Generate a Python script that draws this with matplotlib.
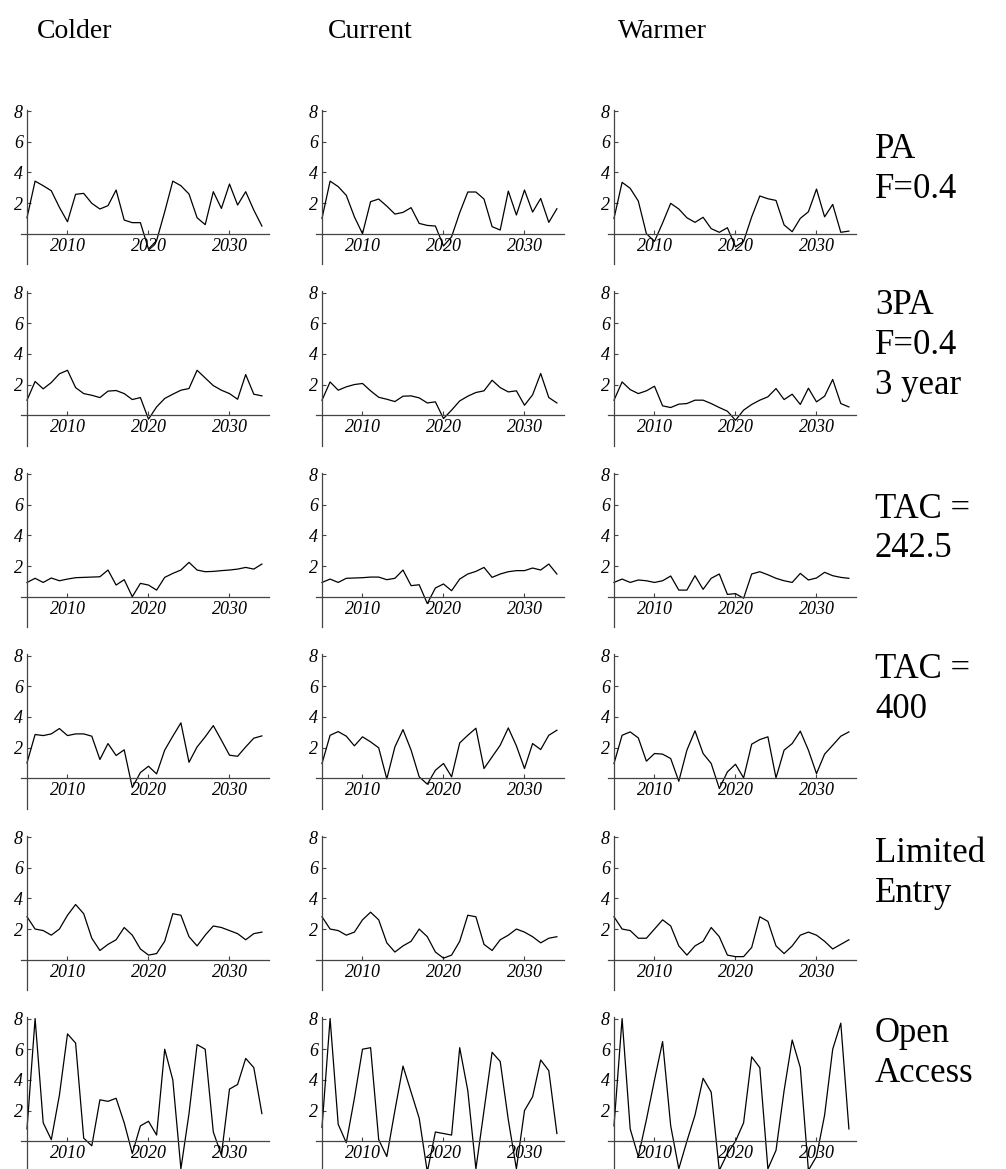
import numpy as np
import matplotlib
matplotlib.use("Agg")
import matplotlib.pyplot as plt
from matplotlib import font_manager as fm

plt.rcParams['font.family'] = ['Liberation Serif', 'DejaVu Serif']

years = np.arange(2005, 2035)
columns = ["Colder", "Current", "Warmer"]
row_labels = [["PA", "F=0.4"], ["3PA", "F=0.4", "3 year"], ["TAC =", "242.5"],
              ["TAC =", "400"], ["Limited", "Entry"], ["Open", "Access"]]
yticks = [2, 4, 6, 8]
xticks = [2010, 2020, 2030]

# PA F=0.4
pa_colder = [1.04, 3.43, 3.13, 2.8, 1.72, 0.78, 2.57, 2.63, 1.98, 1.61, 1.83, 2.85, 0.89, 0.72, 0.72,
             -1.0, -0.45, 1.43, 3.43, 3.13, 2.59, 1.04, 0.59, 2.74, 1.65, 3.24, 1.87, 2.74, 1.54, 0.5]
pa_current = [1.0, 3.43, 3.07, 2.5, 1.1, 0.0, 2.09, 2.26, 1.8, 1.28, 1.39, 1.7, 0.67, 0.54, 0.5,
              -0.8, -0.2, 1.37, 2.72, 2.72, 2.26, 0.46, 0.24, 2.78, 1.22, 2.85, 1.41, 2.3, 0.74, 1.63]
pa_warmer = [1.0, 3.35, 2.96, 2.13, 0.0, -0.5, 0.7, 1.98, 1.61, 1.04, 0.74, 1.07, 0.33, 0.09, 0.39,
             -0.85, -0.5, 1.1, 2.46, 2.28, 2.17, 0.57, 0.13, 1.0, 1.43, 2.91, 1.1, 1.91, 0.09, 0.17]

# 3PA F=0.4 3 year
pa3_colder = [0.98, 2.2, 1.72, 2.13, 2.7, 2.93, 1.8, 1.41, 1.3, 1.15, 1.57, 1.61, 1.41, 1.02, 1.15,
              -0.26, 0.54, 1.09, 1.37, 1.63, 1.74, 2.93, 2.43, 1.93, 1.63, 1.41, 1.04, 2.65, 1.37, 1.26]
pa3_current = [0.98, 2.17, 1.63, 1.85, 2.0, 2.07, 1.59, 1.17, 1.04, 0.89, 1.24, 1.26, 1.13, 0.8, 0.87,
               -0.22, 0.33, 0.93, 1.24, 1.48, 1.59, 2.28, 1.8, 1.52, 1.59, 0.65, 1.33, 2.72, 1.15, 0.8]
pa3_warmer = [0.98, 2.17, 1.67, 1.41, 1.59, 1.89, 0.61, 0.5, 0.72, 0.76, 0.98, 0.98, 0.76, 0.5, 0.26,
              -0.33, 0.33, 0.7, 0.98, 1.2, 1.74, 1.02, 1.37, 0.7, 1.76, 0.87, 1.24, 2.33, 0.76, 0.54]

# TAC = 242.5
tac242_colder = [0.93, 1.2, 0.93, 1.22, 1.04, 1.15, 1.24, 1.26, 1.28, 1.3, 1.74, 0.76, 1.11, 0.0, 0.87,
                 0.76, 0.43, 1.26, 1.52, 1.74, 2.24, 1.74, 1.63, 1.65, 1.7, 1.74, 1.8, 1.91, 1.8, 2.13]
tac242_current = [0.93, 1.15, 0.93, 1.2, 1.22, 1.24, 1.28, 1.28, 1.11, 1.2, 1.74, 0.72, 0.78, -0.45, 0.57,
                  0.83, 0.39, 1.15, 1.48, 1.65, 1.91, 1.26, 1.48, 1.63, 1.7, 1.7, 1.87, 1.74, 2.13, 1.48]
tac242_warmer = [0.93, 1.15, 0.93, 1.09, 1.04, 0.93, 1.04, 1.35, 0.43, 0.43, 1.37, 0.48, 1.2, 1.48, 0.15,
                 0.2, -0.1, 1.48, 1.63, 1.43, 1.2, 1.04, 0.93, 1.52, 1.09, 1.22, 1.59, 1.37, 1.26, 1.2]

# TAC = 400
tac400_colder = [1.0, 2.85, 2.78, 2.89, 3.24, 2.78, 2.89, 2.89, 2.74, 1.22, 2.26, 1.48, 1.85, -0.61, 0.37,
                 0.78, 0.28, 1.83, 2.74, 3.61, 1.04, 2.04, 2.7, 3.43, 2.48, 1.5, 1.43, 2.04, 2.61, 2.76]
tac400_current = [0.96, 2.8, 3.04, 2.74, 2.11, 2.7, 2.37, 1.98, -0.04, 2.04, 3.17, 1.83, 0.09, -0.39, 0.52,
                  0.96, 0.09, 2.3, 2.8, 3.26, 0.63, 1.39, 2.15, 3.28, 2.11, 0.63, 2.26, 1.87, 2.8, 3.13]
tac400_warmer = [0.96, 2.8, 3.02, 2.63, 1.11, 1.61, 1.57, 1.28, -0.2, 1.83, 3.09, 1.61, 0.96, -0.67, 0.41,
                 0.91, 0.02, 2.22, 2.52, 2.7, 0.02, 1.83, 2.26, 3.07, 1.83, 0.3, 1.57, 2.15, 2.74, 3.02]

# Limited Entry
le_colder = [2.8, 2.0, 1.9, 1.6, 2.0, 2.9, 3.6, 3.0, 1.4, 0.6, 1.0, 1.3, 2.1, 1.6, 0.7,
             0.3, 0.4, 1.2, 3.0, 2.9, 1.5, 0.9, 1.6, 2.2, 2.1, 1.9, 1.7, 1.3, 1.7, 1.8]
le_current = [2.8, 2.0, 1.9, 1.6, 1.8, 2.6, 3.1, 2.6, 1.1, 0.5, 0.9, 1.2, 2.0, 1.5, 0.5,
              0.1, 0.3, 1.2, 2.9, 2.8, 1.0, 0.6, 1.3, 1.6, 2.0, 1.8, 1.5, 1.1, 1.4, 1.5]
le_warmer = [2.8, 2.0, 1.9, 1.4, 1.4, 2.0, 2.6, 2.2, 0.9, 0.3, 0.9, 1.2, 2.1, 1.5, 0.3,
             0.2, 0.2, 0.8, 2.8, 2.5, 0.9, 0.4, 0.9, 1.6, 1.8, 1.6, 1.2, 0.7, 1.0, 1.3]

# Open Access
oa_colder = [0.8, 8.0, 1.2, 0.1, 3.0, 7.0, 6.4, 0.2, -0.3, 2.7, 2.6, 2.8, 1.2, -0.8, 1.0,
             1.3, 0.4, 6.0, 4.0, -1.8, 1.8, 6.3, 6.0, 0.6, -0.9, 3.4, 3.7, 5.4, 4.8, 1.8]
oa_current = [0.9, 8.0, 1.1, -0.1, 2.8, 6.0, 6.1, 0.1, -1.0, 2.0, 4.9, 3.2, 1.5, -2.0, 0.6,
              0.5, 0.4, 6.1, 3.3, -1.8, 2.0, 5.8, 5.2, 1.4, -1.8, 2.0, 2.9, 5.3, 4.6, 0.5]
oa_warmer = [1.0, 8.0, 0.8, -1.0, 1.4, 4.0, 6.5, 1.0, -1.8, 0.0, 1.7, 4.1, 3.2, -1.9, -0.8,
             0.0, 1.2, 5.5, 4.8, -1.8, -0.6, 3.3, 6.6, 4.8, -1.9, -1.0, 1.7, 6.0, 7.7, 0.8]

series = [[pa_colder, pa_current, pa_warmer],
          [pa3_colder, pa3_current, pa3_warmer],
          [tac242_colder, tac242_current, tac242_warmer],
          [tac400_colder, tac400_current, tac400_warmer],
          [le_colder, le_current, le_warmer],
          [oa_colder, oa_current, oa_warmer]]

# italic serif for tick labels, picked by file so the style is not lost
italic_files = [f for f in fm.findSystemFonts() if 'LiberationSerif-Italic' in f]
if italic_files:
    tick_font = fm.FontProperties(fname=italic_files[0], size=13)
else:
    tick_font = fm.FontProperties(family='DejaVu Serif', style='italic', size=12)

W, H = 1006, 1169
fig = plt.figure(figsize=(W / 100, H / 100), dpi=100)

# layout in pixels
col_axis_px = [27, 322, 614]
row_zero_px = [233.7 + 181.5 * r for r in range(6)]
px_year = 8.1
px_unit = 15.33
x0, x1 = 2004.3, 2034.9
y0, y1 = -2.0, 8.1

for r in range(6):
    for c in range(3):
        left = col_axis_px[c] - (2005 - x0) * px_year
        width = (x1 - x0) * px_year
        top = row_zero_px[r] - y1 * px_unit
        height = (y1 - y0) * px_unit
        ax = fig.add_axes([left / W, 1 - (top + height) / H, width / W, height / H])
        ax.plot(years, series[r][c], color='black', lw=0.9)
        ax.set_xlim(x0, x1)
        ax.set_ylim(y0, y1)
        ax.spines['left'].set_position(('data', 2005))
        ax.spines['bottom'].set_position(('data', 0))
        ax.spines['top'].set_visible(False)
        ax.spines['right'].set_visible(False)
        for s in ('left', 'bottom'):
            ax.spines[s].set_color('#444444')
            ax.spines[s].set_linewidth(0.9)
        ax.set_xticks(xticks, labels=[str(t) for t in xticks], fontproperties=tick_font)
        ax.set_yticks(yticks, labels=[str(t) for t in yticks], fontproperties=tick_font)
        ax.tick_params(direction='in', length=3, width=0.8, color='#444444', pad=3)
        ax.patch.set_visible(False)

# column titles
for c, name in enumerate(columns):
    fig.text((col_axis_px[c] + 48) / W, 1 - 31 / H, name, ha='center', va='center', fontsize=20)

# row labels, one line each
line_y = [[150, 190], [306, 346, 386], [509, 549], [670, 710], [854, 894], [1034, 1074]]
for r, lines in enumerate(row_labels):
    for text, yp in zip(lines, line_y[r]):
        fig.text(875 / W, 1 - yp / H, text, ha='left', va='center', fontsize=25)

fig.savefig("out.png", dpi=100)
